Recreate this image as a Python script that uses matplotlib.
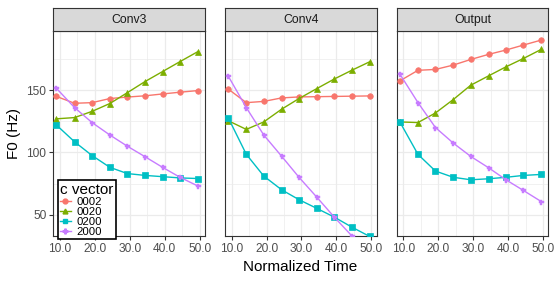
import matplotlib
matplotlib.use("Agg")
import matplotlib.pyplot as plt
from matplotlib.lines import Line2D

plt.rcParams['font.family'] = ['Liberation Sans', 'DejaVu Sans']

# normalized time of each sample
times = [9.0, 14.2, 19.2, 24.3, 29.3, 34.4, 39.4, 44.4, 49.5]

panels = ['Conv3', 'Conv4', 'Output']
series = ['0002', '0020', '0200', '2000']

# F0 values (Hz) per panel and c vector
conv3_0002 = [145, 139.5, 140, 143.3, 144.5, 145.5, 147, 148.4, 149.7]
conv3_0020 = [127, 128, 133, 139.3, 148, 157, 165, 173, 181]
conv3_0200 = [122, 108.5, 97.5, 88, 83, 81.5, 80.5, 79.5, 79]
conv3_2000 = [151.5, 136, 124, 114, 105, 96.5, 88, 80, 73]

conv4_0002 = [151, 140, 141, 143.8, 144.6, 144.8, 145, 145.2, 145.4]
conv4_0020 = [125.5, 118.5, 124.5, 134.7, 143.3, 151.3, 159, 166, 172.8]
conv4_0200 = [128, 98.5, 81, 70, 62, 55, 48, 40, 32.5]
conv4_2000 = [161.5, 136, 114, 97, 80, 64, 48, 33, 19]

output_0002 = [157.5, 166, 166.7, 170.2, 174.7, 178.8, 182.3, 186.3, 190.3]
output_0020 = [124.5, 124, 131.7, 142.5, 154, 161.5, 168.8, 175.5, 182.8]
output_0200 = [124.5, 98.4, 85, 80, 78, 78.8, 80, 81.5, 82.3]
output_2000 = [163, 140, 120, 107.5, 96.8, 87.7, 78, 69.4, 60.5]

data = {
    'Conv3': [conv3_0002, conv3_0020, conv3_0200, conv3_2000],
    'Conv4': [conv4_0002, conv4_0020, conv4_0200, conv4_2000],
    'Output': [output_0002, output_0020, output_0200, output_2000],
}

colors = ['#F8766D', '#7CAE00', '#00BFC4', '#C77CFF']
markers = ['o', '^', 's', 'P']
msizes = [4.0, 5.0, 4.0, 3.6]

W, H = 556, 281
fig = plt.figure(figsize=(W / 100, H / 100), dpi=100)

lefts = [53.3, 225, 396.7]
pw = 151.5
top_px, bot_px, strip_top = 31, 236, 8

for i, name in enumerate(panels):
    ax = fig.add_axes([lefts[i] / W, 1 - bot_px / H, pw / W, (bot_px - top_px) / H])
    ax.set_xlim(8.1, 51.5)
    ax.set_ylim(32.8, 197.6)
    ax.set_xticks([10, 20, 30, 40, 50])
    ax.set_xticks([15, 25, 35, 45], minor=True)
    ax.set_yticks([50, 100, 150])
    ax.set_yticks([75, 125, 175], minor=True)
    ax.grid(which='major', color='#ebebeb', lw=0.9)
    ax.grid(which='minor', color='#ebebeb', lw=0.5)
    ax.set_axisbelow(True)
    ax.set_xticklabels(['10.0', '20.0', '30.0', '40.0', '50.0'])
    ax.tick_params(which='major', length=3, width=0.8, color='#333333',
                   labelsize=8.6, labelcolor='#4d4d4d', pad=2)
    ax.tick_params(which='minor', length=0)
    if i > 0:
        ax.tick_params(axis='y', left=False, labelleft=False)
    for sp in ax.spines.values():
        sp.set_color('#333333')
        sp.set_linewidth(0.8)

    for j, ys in enumerate(data[name]):
        ax.plot(times, ys, color=colors[j], lw=1.0, marker=markers[j],
                ms=msizes[j], mew=0.5 if j < 3 else 0.3, zorder=3)

    sax = fig.add_axes([lefts[i] / W, 1 - top_px / H, pw / W, (top_px - strip_top) / H])
    sax.set_facecolor('#d9d9d9')
    sax.set_xticks([])
    sax.set_yticks([])
    for sp in sax.spines.values():
        sp.set_color('#333333')
        sp.set_linewidth(0.8)
    sax.text(0.5, 0.48, name, ha='center', va='center', fontsize=8.8, color='#1a1a1a',
             transform=sax.transAxes)

fig.text(14 / W, 1 - 133.5 / H, 'F0 (Hz)', rotation=90, ha='center', va='center', fontsize=11)
fig.text(300 / W, 1 - 267 / H, 'Normalized Time', ha='center', va='center', fontsize=11)

handles = [Line2D([], [], color=colors[j], marker=markers[j], ms=3.5, lw=1.0)
           for j in range(4)]
leg = fig.legend(handles, series, title='c vector', loc='lower left',
                 bbox_to_anchor=(58 / W, 1 - 239 / H), borderaxespad=0,
                 fontsize=8.2, title_fontsize=11, handlelength=0.9, handletextpad=0.5,
                 labelspacing=0.0, borderpad=0.2, frameon=True, fancybox=False,
                 alignment='left')
leg.get_frame().set_edgecolor('black')
leg.get_frame().set_linewidth(1.2)
leg.get_frame().set_alpha(1)

fig.savefig('out.png', dpi=100)
